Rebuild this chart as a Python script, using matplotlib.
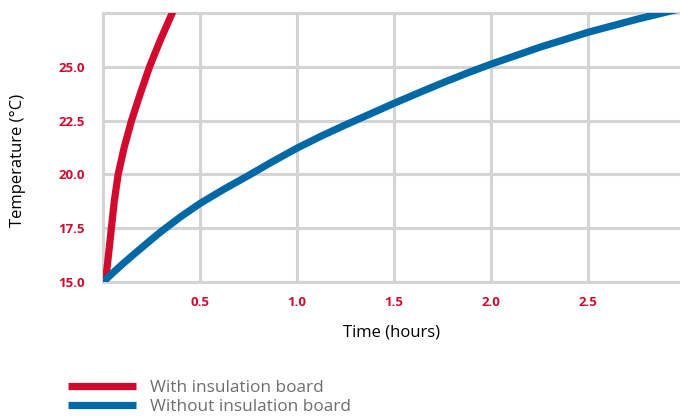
import matplotlib
matplotlib.use("Agg")
import matplotlib.pyplot as plt

plt.rcParams.update({"font.family": ["Open Sans", "DejaVu Sans"]})

RED = "#d20a2e"; BLUE = "#0069a5"; GRID = "#d4d4d4"

# with insulation board (fast rise)
t_with = [0.012, 0.02, 0.028, 0.036, 0.043, 0.058, 0.078, 0.109, 0.147, 0.192, 0.24, 0.296, 0.357, 0.383]
T_with = [15.0, 15.6, 16.25, 16.9, 17.5, 18.75, 20.0, 21.25, 22.5, 23.75, 25.0, 26.25, 27.5, 28.0]
# without insulation board
t_without = [0, 0.05, 0.1, 0.15, 0.2, 0.25, 0.3, 0.4, 0.5, 0.625, 0.75, 0.875, 1.0, 1.125,
             1.25, 1.375, 1.5, 1.625, 1.75, 1.875, 2.0, 2.25, 2.5, 2.75, 3.0]
T_without = [15.0, 15.42, 15.83, 16.22, 16.6, 16.98, 17.35, 18.03, 18.65, 19.32, 19.95, 20.6, 21.22, 21.78,
             22.3, 22.8, 23.3, 23.78, 24.25, 24.7, 25.12, 25.9, 26.6, 27.2, 27.75]

xticks = [0.5, 1.0, 1.5, 2.0, 2.5]
yticks = [15.0, 17.5, 20.0, 22.5, 25.0]

fig = plt.figure(figsize=(6.8, 4.16), dpi=100)
ax = fig.add_axes([0.1515, 0.322, 0.8485, 0.647])
ax.plot(t_with, T_with, color=RED, lw=5.2, solid_capstyle="butt", label="With insulation board", zorder=3)
ax.plot(t_without, T_without, color=BLUE, lw=5.2, solid_capstyle="butt", label="Without insulation board", zorder=3)
ax.set_xlim(0, 2.974); ax.set_ylim(15, 27.5)
ax.set_xticks(xticks); ax.set_yticks(yticks + [27.5])
ax.set_xticklabels([f"{v:.1f}" for v in xticks])
ax.set_yticklabels([f"{v:.1f}" for v in yticks] + [""])
ax.grid(True, color=GRID, lw=2.2)
for s in ["left", "bottom", "top"]:
    ax.spines[s].set_color(GRID); ax.spines[s].set_linewidth(2.2)
ax.spines["right"].set_visible(False)
ax.tick_params(length=0, colors=RED, labelsize=9.5)
ax.tick_params(axis="y", pad=13); ax.tick_params(axis="x", pad=10)
for lab in ax.get_xticklabels() + ax.get_yticklabels():
    lab.set_fontweight("bold")
ax.set_xlabel("Time (hours)", fontsize=12, labelpad=11)
ax.set_ylabel("Temperature (°C)", fontsize=12)
ax.yaxis.set_label_coords(-0.133, 0.4535)

fig.legend(loc="upper left", bbox_to_anchor=(0.1, 0.086), frameon=False, fontsize=12.4,
           handlelength=3.95, handletextpad=0.8, labelspacing=0.18, borderaxespad=0, borderpad=0,
           labelcolor="#6d6e71")
fig.savefig("out.png", dpi=100)
